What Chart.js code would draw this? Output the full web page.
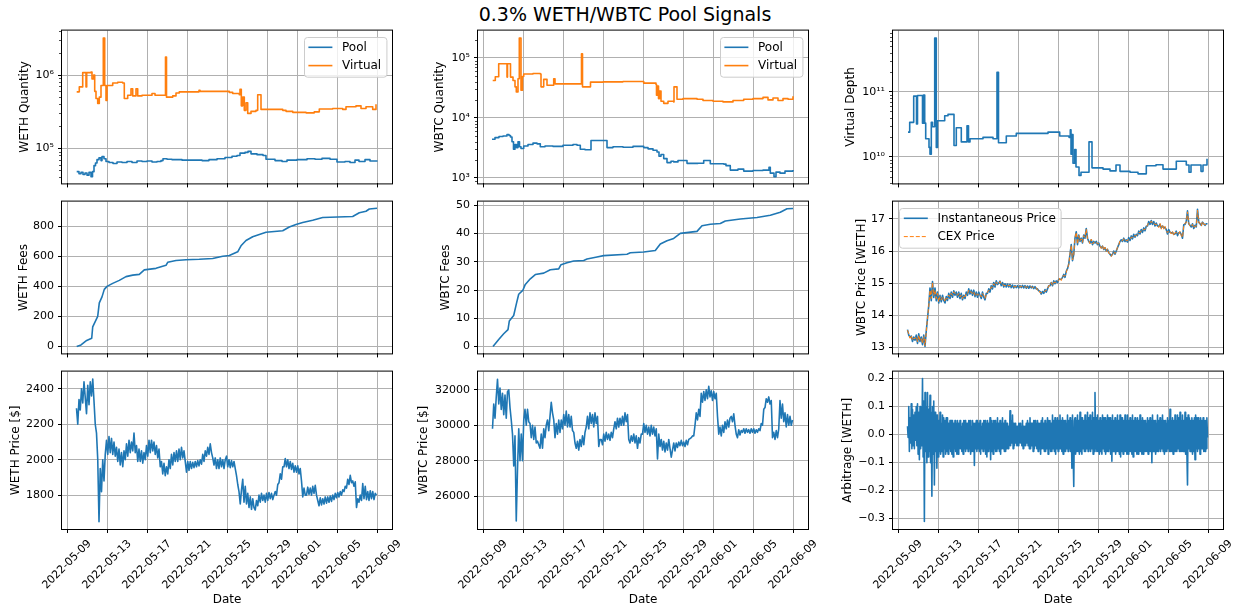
<!DOCTYPE html>
<html>
<head>
<meta charset="utf-8">
<title>0.3% WETH/WBTC Pool Signals</title>
<script src="https://cdn.jsdelivr.net/npm/chart.js"></script>
<style>
  body { margin: 0; background: #fff; width: 1238px; height: 611px; position: relative; overflow: hidden; font-family: "DejaVu Sans", sans-serif; }
  canvas { position: absolute; }
  #title { position: absolute; left: 0; width: 1250px; top: 5px; text-align: center; font-size: 19px; line-height: 19px; color: #000; }
</style>
</head>
<body>
<div id="title">0.3% WETH/WBTC Pool Signals</div>
<script>
// x values are days after 2022-05-09 00:00
const tickDays = [0, 4, 8, 12, 16, 20, 23, 27, 31];
const tickLabels = ['2022-05-09', '2022-05-13', '2022-05-17', '2022-05-21', '2022-05-25',
                    '2022-05-29', '2022-06-01', '2022-06-05', '2022-06-09'];

// reserves, [day, value] (step changes)
const wethPool = [[0.97,48000],[1.2,45000],[1.4,47000],[1.6,44000],[1.8,46000],[2.0,43000],[2.2,47000],[2.4,41000],
  [2.55,48000],[2.7,58000],[2.85,63000],[3.0,70000],[3.2,74000],[3.4,68000],[3.5,77000],[3.7,72000],[3.9,66000],
  [4.2,64000],[4.6,62000],[5.0,65000],[5.5,64000],[6.0,66000],[6.5,64000],[7.0,67000],[7.5,66000],[8.0,67000],
  [8.5,65000],[9.0,66000],[9.4,68000],[9.6,72000],[10.0,71000],[10.5,70000],[11.5,69000],[12.5,69000],[13.5,68000],
  [14.2,70000],[15.0,72000],[15.8,75000],[16.5,78000],[17.0,80000],[17.3,86000],[17.8,88000],[18.1,91000],
  [18.4,84000],[19.0,82000],[19.6,80000],[19.9,71000],[20.8,68000],[21.5,66000],[22.0,69000],[23.0,70000],
  [24.0,72000],[24.8,71000],[25.5,73000],[26.3,71000],[27.0,65000],[27.8,66000],[28.3,64000],[28.8,69000],
  [29.2,66000],[29.8,70000],[30.3,67000],[31.0,68000]];
const wethVirtual = [[0.97,590000],[1.23,690000],[1.57,1080000],[1.9,690000],[1.97,1080000],[2.4,1100000],
  [2.5,885000],[2.67,1000000],[2.77,600000],[2.9,480000],[3.07,410000],[3.23,500000],[3.4,720000],[3.63,3200000],
  [3.77,720000],[3.9,450000],[4.0,720000],[4.57,780000],[5.07,800000],[5.57,780000],[5.73,480000],[6.07,530000],
  [6.4,650000],[6.57,520000],[6.9,650000],[7.07,520000],[7.5,530000],[8.5,560000],[8.8,530000],[9.85,1770000],
  [9.95,500000],[10.57,520000],[10.9,570000],[11.23,590000],[13.2,620000],[13.3,600000],[14.57,600000],
  [16.23,580000],[16.57,560000],[17.23,540000],[17.3,640000],[17.43,380000],[17.57,500000],[17.73,330000],
  [17.9,420000],[18.07,300000],[18.4,320000],[18.9,330000],[19.07,540000],[19.4,340000],[21.57,330000],
  [21.9,320000],[22.57,310000],[23.9,305000],[24.73,315000],[25.23,345000],[26.57,350000],[27.57,340000],
  [27.9,370000],[28.9,380000],[29.4,350000],[29.9,370000],[30.57,340000],[30.9,400000]];
const wbtcPool = [[0.9,4400],[1.2,4700],[1.6,4900],[2.0,5000],[2.4,5300],[2.6,5100],[2.75,4800],[2.9,4000],
  [3.05,3000],[3.2,3600],[3.35,3200],[3.5,4000],[3.65,3300],[3.8,3100],[4.07,3400],[4.5,3600],[5.0,3800],
  [5.4,3700],[5.73,3300],[6.2,3400],[7.0,3350],[8.0,3500],[9.0,3600],[9.4,3500],[9.73,3000],[10.2,2950],
  [10.8,4200],[12.4,3200],[13.0,3300],[14.0,3250],[15.0,3350],[16.07,3200],[16.5,3050],[17.0,2900],[17.4,2700],
  [17.6,2300],[17.8,2450],[18.07,2100],[18.4,1800],[18.8,1900],[19.07,1850],[19.5,1950],[20.4,1750],[21.5,1760],
  [22.07,1950],[22.73,1720],[24.07,1700],[24.3,1600],[24.73,1350],[25.5,1400],[26.07,1300],[27.0,1330],
  [28.0,1350],[28.6,1500],[28.73,1200],[29.1,1050],[29.3,1250],[29.7,1200],[30.2,1300],[31.0,1350]];
const wbtcVirtual = [[0.97,42000],[1.23,48700],[1.57,80000],[2.1,80000],[2.4,48000],[2.45,80000],[2.75,48000],
  [3.0,42000],[3.2,33000],[3.33,27000],[3.5,45000],[3.63,215000],[3.8,29000],[3.95,49000],[4.07,54000],
  [5.0,55000],[5.73,54000],[5.8,33000],[6.07,44000],[6.4,35000],[7.0,35000],[7.07,45000],[7.2,37000],
  [9.85,117000],[9.95,33000],[10.75,39500],[12.0,40000],[14.0,40500],[16.07,38000],[17.3,36000],[17.35,24000],
  [17.45,34000],[17.55,21000],[17.65,28000],[17.8,19000],[18.07,17500],[18.5,19000],[19.07,18400],[19.1,33000],
  [19.4,20500],[20.0,21000],[21.4,20500],[22.0,19500],[23.0,19000],[24.0,18500],[25.0,19500],[26.07,20500],
  [27.0,21000],[28.0,22000],[28.5,20000],[29.0,21500],[29.5,19500],[30.0,21000],[30.5,20500],[31.0,23000]];
const virtualDepth = [[1.0,2.4e10],[1.17,3.4e10],[1.57,8.6e10],[1.85,3.2e10],[1.95,8.8e10],[2.45,3.3e10],
  [2.55,8.9e10],[2.67,3.3e10],[2.77,1.9e10],[3.1,1.4e10],[3.2,1.1e10],[3.33,3.4e10],[3.45,2.9e10],[3.67,6.7e11],
  [3.83,1.4e10],[3.95,3.6e10],[4.67,4.3e10],[5.0,4.5e10],[5.6,1.5e10],[5.83,2.8e10],[6.33,1.7e10],[6.9,3.0e10],
  [7.05,1.7e10],[7.2,1.9e10],[8.5,2.0e10],[9.5,1.9e10],[9.9,2.0e11],[10.05,1.65e10],[10.83,2.1e10],[11.83,2.3e10],
  [13.5,2.3e10],[15.0,2.4e10],[16.17,2.1e10],[17.1,2.0e10],[17.23,2.6e10],[17.3,1.1e10],[17.4,2.2e10],[17.5,8e9],
  [17.67,1.3e10],[17.8,7e9],[18.1,5.2e9],[18.3,5.8e9],[19.1,1.7e10],[19.4,6.8e9],[20.5,6.5e9],[21.2,6.1e9],
  [21.8,7.5e9],[22.2,6.0e9],[23.2,5.8e9],[24.0,5.5e9],[24.83,7.3e9],[25.8,7.6e9],[26.5,6.5e9],[27.83,8.6e9],
  [28.83,7.5e9],[29.1,5.8e9],[29.3,7.5e9],[30.3,6e9],[30.5,7.5e9],[30.9,9.4e9]];

// cumulative fees, [day, value]
const wethFees = [[0.97,0],[1.4,10],[1.97,40],[2.47,55],[2.57,130],[3.07,200],[3.23,290],[3.5,330],[3.73,380],
  [4.0,400],[4.57,420],[5.23,440],[5.9,465],[6.57,475],[7.23,480],[7.73,510],[8.9,520],[9.9,540],[10.07,560],
  [10.9,572],[11.9,577],[13.23,580],[14.57,585],[15.57,600],[16.23,605],[17.07,630],[17.4,670],[17.9,705],
  [18.57,730],[19.23,745],[19.9,760],[21.57,770],[22.23,795],[22.9,812],[23.57,825],[24.57,840],[25.57,858],
  [28.57,865],[29.23,890],[29.9,900],[30.23,915],[31.0,920]];
const wbtcFees = [[1.0,0],[1.57,2.5],[2.07,4.5],[2.5,6],[2.63,9],[3.07,11],[3.33,15],[3.57,18.5],[4.0,20],
  [4.23,22],[4.73,24],[5.23,25.5],[6.07,26],[6.73,27.2],[7.57,27.5],[7.8,29],[8.4,29.7],[9.07,30.3],[10.07,30.5],
  [10.4,31],[11.4,31.7],[12.07,32.2],[14.4,32.7],[14.73,33.2],[16.07,33.5],[17.23,34],[17.73,36.3],[18.4,37.5],
  [19.07,38.3],[19.73,40.1],[21.4,40.8],[21.9,42.8],[22.73,43.3],[23.73,43.6],[24.23,44.5],[25.73,45.2],
  [27.4,45.7],[28.73,46.5],[29.73,47.6],[30.4,48.8],[31.0,48.9]];

// prices sampled every 3 hours from day 0.95, arbitrage every 1.5 hours
const sampleStart = 0.95, priceStep = 0.125, arbStep = 0.0625;
const wethPrice = [
  2290,2200,2340,2280,2400,2320,2440,2350, 2260,2420,2310,2440,2360,2455,2330,2200,
  2150,2000,1650,1950,1820,2000,1880,2030, 2110,2030,2130,2040,2120,2030,2100,2020,
  2070,1990,2060,1970,2040,1960,2050,2000, 2090,2020,2110,2040,2100,2050,2150,2040,
  2080,1990,2060,1990,2050,1980,2040,2000, 2080,2020,2110,2040,2110,2050,2100,2030,
  2080,2010,2060,1960,1990,1920,1980,1910, 1960,1920,2000,1950,2030,1970,2040,1990,
  2050,1990,2060,2000,2070,2010,2050,1990, 1930,1990,1940,1990,1950,1985,1955,1990,
  1960,1995,1965,2000,1975,2030,1990,2050, 2020,2070,2030,2090,2040,2010,1970,2010,
  1950,2000,1950,2010,1960,2000,1950,2000, 2020,1960,2000,1955,1995,1960,1990,1950,
  1910,1860,1820,1750,1830,1890,1760,1850, 1750,1810,1730,1790,1720,1780,1730,1716,
  1770,1740,1800,1760,1810,1770,1800,1760, 1810,1770,1815,1780,1810,1775,1800,1820,
  1800,1860,1870,1920,1890,1960,1960,2006, 1960,2000,1950,1990,1945,1980,1930,1965,
  1930,1965,1920,1950,1880,1790,1840,1800, 1800,1845,1805,1840,1800,1850,1810,1855,
  1800,1770,1740,1785,1745,1780,1750,1790, 1755,1790,1760,1795,1765,1800,1775,1810,
  1785,1815,1790,1820,1800,1830,1820,1850, 1840,1890,1860,1912,1870,1880,1850,1875,
  1730,1780,1760,1800,1770,1865,1780,1850, 1775,1820,1770,1825,1780,1820,1775,1810, 1800];
const wbtcPrice = [
  29800,31200,30400,31600,32600,31200,32100,30900, 31800,30600,31700,30400,31900,32000,31000,30300,
  29500,27700,29400,24600,27500,29800,28000,29500, 28000,30300,30900,30000,30900,30200,30100,29300,
  30000,29200,29900,29000,29100,28900,28700,29500, 28700,29800,29300,30000,30300,29700,30500,31300,
  30700,30300,29300,30100,29500,30300,29600,30300, 29800,30600,30000,30800,29900,30600,29900,30500,
  29700,29600,29000,28700,29100,28600,29200,28800, 29400,28900,29600,29900,30500,29800,30700,30100,
  30600,29900,30700,30100,30500,28800,29200,29200, 28900,29500,29100,29600,29200,29500,29150,29600,
  29300,29800,30200,29800,30400,29900,30400,30000, 30500,30000,30700,30200,30600,29200,29000,29400,
  29100,29500,29000,29400,28700,29300,29000,29500, 29500,30100,29600,30000,29500,29900,29400,30000,
  29500,29900,29400,29800,28100,29500,28800,29200, 28600,29100,28500,29000,28600,29200,28700,28200,
  28600,29000,28550,29000,28750,29050,28850,29150, 28850,29050,28800,29150,28900,29200,29250,29300,
  29400,29400,30000,30700,30300,30900,30500,31800, 31300,31900,31400,32000,31500,32200,31600,31950,
  31400,31900,31500,31800,30500,29500,29900,29400, 30000,29600,30200,29800,30300,29900,30400,30500,
  30200,30650,30000,29500,29300,29750,29450,29700, 29600,29800,29550,29800,29600,29750,29550,29800,
  29600,29800,29550,29750,29600,29800,29700,30100, 30000,30900,31000,31500,31300,31600,31200,31400,
  29300,29600,29200,29700,29300,29800,31400,30400, 31200,30200,30700,29900,30600,30000,30500,30000, 30300];
const instPrice = [
  13.55,13.38,13.32,13.35,13.18,13.32,13.22,13.38, 13.12,13.42,13.18,13.32,13.08,13.38,13.03,13.5,
  13.9,14.3,14.85,14.45,15.05,14.55,14.85,14.45, 14.72,14.38,14.62,14.42,14.62,14.46,14.38,14.58,
  14.46,14.68,14.52,14.72,14.56,14.76,14.62,14.72, 14.56,14.72,14.52,14.68,14.48,14.62,14.52,14.72,
  14.62,14.82,14.66,14.78,14.62,14.78,14.58,14.72, 14.56,14.72,14.62,14.52,14.72,14.56,14.48,14.68,
  14.68,14.82,14.72,14.92,14.82,15.02,14.88,15.07, 14.96,15.0,15.06,14.92,15.02,14.88,14.98,14.88,
  14.97,14.88,14.96,14.86,14.94,14.85,14.92,14.86, 14.92,14.85,14.92,14.86,14.93,14.85,14.92,14.84,
  14.91,14.84,14.91,14.85,14.9,14.83,14.89,14.82, 14.82,14.76,14.74,14.66,14.74,14.68,14.8,14.72,
  14.82,14.92,14.92,15.02,14.92,15.07,14.98,15.07, 15.02,15.12,15.12,15.12,15.18,15.27,15.18,15.37,
  15.45,15.6,15.9,16.2,15.7,15.9,16.4,16.6, 16.2,16.5,16.3,16.4,16.25,16.5,16.4,16.7,
  16.4,16.3,16.25,16.35,16.2,16.3,16.25,16.3, 16.2,16.25,16.15,16.1,16.15,16.05,16.1,16.0,
  16.05,15.95,15.9,15.85,15.9,16.0,15.9,16.0, 16.1,16.2,16.3,16.35,16.3,16.4,16.3,16.35,
  16.28,16.42,16.33,16.47,16.38,16.52,16.43,16.52, 16.48,16.62,16.53,16.67,16.58,16.72,16.63,16.77,
  16.78,16.92,16.83,16.95,16.83,16.92,16.78,16.87, 16.78,16.77,16.83,16.72,16.78,16.72,16.73,16.67,
  16.53,16.67,16.58,16.57,16.58,16.52,16.53,16.62, 16.48,16.57,16.58,16.52,16.4,16.82,16.83,16.92,
  17.25,16.85,16.8,16.75,16.85,16.7,16.8,16.75, 17.3,16.9,16.85,16.8,16.9,16.85,16.8,16.85, 16.85];
const cexPrice = [
  13.53,13.42,13.28,13.37,13.22,13.28,13.27,13.33, 13.17,13.38,13.22,13.28,13.12,13.33,13.05,13.48,
  13.92,14.28,14.78,14.52,15.02,14.62,14.78,14.52, 14.68,14.42,14.58,14.47,14.58,14.52,14.42,14.53,
  14.52,14.63,14.57,14.68,14.62,14.73,14.67,14.68, 14.62,14.68,14.57,14.63,14.52,14.62,14.57,14.68,
  14.67,14.78,14.72,14.73,14.67,14.73,14.62,14.68, 14.62,14.68,14.63,14.57,14.68,14.62,14.52,14.63,
  14.72,14.78,14.77,14.88,14.87,14.98,14.92,15.03, 14.98,14.97,15.05,14.97,14.98,14.92,14.93,14.92,
  14.93,14.92,14.93,14.9,14.9,14.89,14.88,14.9, 14.88,14.89,14.88,14.9,14.89,14.89,14.88,14.88,
  14.87,14.88,14.88,14.89,14.86,14.87,14.86,14.86, 14.78,14.8,14.7,14.7,14.7,14.72,14.76,14.77,
  14.83,14.92,14.93,15.02,14.93,15.03,15.02,15.03, 15.07,15.08,15.17,15.08,15.22,15.23,15.22,15.33,
  15.47,15.58,15.92,16.18,15.72,15.88,16.42,16.58, 16.22,16.48,16.32,16.38,16.27,16.48,16.42,16.68,
  16.38,16.32,16.23,16.37,16.22,16.28,16.27,16.28, 16.22,16.23,16.17,16.08,16.17,16.03,16.12,15.98,
  16.07,15.93,15.92,15.83,15.92,15.98,15.92,15.98, 16.12,16.18,16.32,16.33,16.32,16.38,16.32,16.33,
  16.32,16.38,16.37,16.43,16.42,16.48,16.47,16.48, 16.52,16.58,16.57,16.63,16.62,16.68,16.67,16.73,
  16.82,16.88,16.87,16.93,16.87,16.88,16.82,16.83, 16.82,16.73,16.87,16.68,16.82,16.68,16.77,16.63,
  16.57,16.63,16.62,16.53,16.62,16.48,16.57,16.58, 16.52,16.53,16.62,16.48,16.42,16.78,16.87,16.88,
  17.22,16.87,16.78,16.77,16.83,16.72,16.78,16.77, 17.27,16.88,16.87,16.78,16.92,16.83,16.82,16.83, 16.83];
const arbitrage = [
  0.03,-0.01,0.1,-0.06,0.06,-0.03,0.11,-0.05,0.09,-0.04,0.07,-0.05,0.08,-0.02,0.1,-0.04,
  0.11,-0.07,0.08,-0.09,0.1,-0.05,0.07,-0.04,0.2,-0.08,0.12,-0.31,0.15,-0.06,0.1,-0.1,
  0.15,-0.08,0.09,-0.06,0.14,-0.1,0.08,-0.22,0.1,-0.07,0.12,-0.18,0.08,-0.06,0.07,-0.12,
  0.07,-0.08,0.05,-0.06,0.08,-0.07,0.04,-0.06,0.07,-0.08,0.06,-0.05,0.05,-0.07,0.06,-0.06,
  0.06,-0.07,0.04,-0.05,0.05,-0.06,0.05,-0.07,0.05,-0.08,0.04,-0.05,0.05,-0.06,0.04,-0.07,
  0.05,-0.07,0.04,-0.05,0.05,-0.05,0.03,-0.06,0.04,-0.07,0.05,-0.05,0.05,-0.06,0.04,-0.05,
  0.04,-0.06,0.05,-0.05,0.05,-0.07,0.03,-0.06,0.05,-0.06,0.04,-0.11,0.04,-0.05,0.05,-0.06,
  0.05,-0.05,0.04,-0.06,0.05,-0.07,0.03,-0.05,0.04,-0.06,0.05,-0.05,0.05,-0.07,0.04,-0.08,
  0.05,-0.06,0.04,-0.05,0.06,-0.09,0.05,-0.06,0.04,-0.07,0.05,-0.05,0.05,-0.06,0.04,-0.06,
  0.06,-0.05,0.04,-0.06,0.05,-0.07,0.04,-0.05,0.06,-0.05,0.04,-0.06,0.05,-0.06,0.04,-0.05,
  0.04,-0.05,0.03,-0.04,0.085,-0.04,0.05,-0.03,0.07,-0.05,0.04,-0.04,0.04,-0.03,0.03,-0.04,
  0.03,-0.04,0.04,-0.03,0.04,-0.03,0.03,-0.04,0.05,-0.05,0.03,-0.04,0.03,-0.04,0.04,-0.03,
  0.05,-0.04,0.04,-0.05,0.06,-0.05,0.04,-0.04,0.04,-0.06,0.05,-0.05,0.05,-0.04,0.04,-0.05,
  0.05,-0.06,0.04,-0.05,0.04,-0.07,0.05,-0.05,0.06,-0.05,0.04,-0.06,0.05,-0.06,0.04,-0.05,
  0.06,-0.07,0.05,-0.05,0.05,-0.06,0.04,-0.06,0.07,-0.05,0.05,-0.06,0.06,-0.07,0.05,-0.05,
  0.06,-0.06,0.05,-0.05,0.07,-0.05,0.05,-0.06,0.06,-0.07,0.05,-0.06,0.05,-0.06,0.04,-0.05,
  0.07,-0.06,0.05,-0.05,0.06,-0.06,0.05,-0.12,0.07,-0.06,-0.185,0.05,0.06,-0.07,0.05,-0.06,
  0.07,-0.06,0.05,-0.07,0.08,-0.06,0.06,-0.07,0.06,-0.05,0.05,-0.06,0.07,-0.06,0.05,-0.05,
  0.08,-0.06,0.06,-0.05,0.07,-0.06,0.05,-0.05,0.08,-0.07,0.06,-0.06,0.15,-0.05,0.06,-0.06,
  0.07,-0.06,0.05,-0.07,0.06,-0.06,0.05,-0.07,0.07,-0.05,0.06,-0.06,0.06,-0.07,0.05,-0.06,
  0.07,-0.06,0.06,-0.05,0.06,-0.07,0.05,-0.095,0.07,-0.06,0.05,-0.06,0.06,-0.07,0.05,-0.06,
  0.07,-0.06,0.05,-0.07,0.07,-0.08,0.06,-0.06,0.06,-0.07,0.05,-0.06,0.07,-0.06,0.05,-0.07,
  0.07,-0.07,0.05,-0.06,0.06,-0.06,0.05,-0.07,0.07,-0.08,0.05,-0.06,0.06,-0.06,0.05,-0.07,
  0.06,-0.07,0.05,-0.06,0.07,-0.06,0.05,-0.07,0.06,-0.07,0.05,-0.06,0.05,-0.06,0.04,-0.06,
  0.06,-0.07,0.05,-0.06,0.06,-0.06,0.05,-0.1,0.07,-0.06,0.05,-0.06,0.05,-0.07,0.04,-0.06,
  0.07,-0.06,0.05,-0.05,0.06,-0.06,0.05,-0.05,0.07,-0.06,0.05,-0.07,0.05,-0.06,0.04,-0.06,
  0.06,-0.05,0.05,-0.06,0.09,-0.06,0.05,-0.06,0.06,-0.07,0.05,-0.06,0.07,-0.06,0.05,-0.06,
  0.07,-0.05,0.06,-0.06,0.08,-0.06,0.05,-0.06,0.07,-0.06,0.05,-0.06,0.08,-0.07,0.06,-0.06,
  -0.18,0.07,-0.05,0.06,-0.06,0.05,-0.06,0.06,-0.07,0.05,-0.06,0.06,-0.09,0.07,-0.05,0.06,
  -0.06,0.06,-0.05,0.05,-0.07,0.06,-0.05,0.05,-0.05,0.06,-0.06,0.05,-0.06,0.05,-0.05,0.06, -0.01];

const BLUE = '#1f77b4', ORANGE = '#ff7f0e';
const FONT = '"DejaVu Sans", sans-serif';
const colLeft = [62, 478, 893], rowTop = [30, 201, 371], rowH = [158, 157, 158], PW = 330;

const pairs = arr => arr.map(p => ({x: p[0], y: p[1]}));
const sampled = (arr, step) => arr.map((v, i) => ({x: sampleStart + i * step, y: v}));

// full box around the axes
const frame = {
  id: 'frame',
  afterDraw(chart) {
    const {ctx, chartArea: a} = chart;
    ctx.save();
    ctx.strokeStyle = '#000'; ctx.lineWidth = 1;
    ctx.strokeRect(a.left - 0.5, a.top - 0.5, a.right - a.left + 1, a.bottom - a.top + 1);
    ctx.restore();
  }
};

// short unlabeled ticks between decades on log axes
const minorTicks = {
  id: 'minorTicks',
  afterDraw(chart) {
    const s = chart.scales.y;
    if (s.type !== 'logarithmic') return;
    const {ctx, chartArea: a} = chart;
    ctx.save();
    ctx.strokeStyle = '#000'; ctx.lineWidth = 0.7;
    for (let e = Math.floor(Math.log10(s.min)); e <= Math.ceil(Math.log10(s.max)); e++) {
      for (let k = 2; k < 10; k++) {
        const v = k * Math.pow(10, e);
        if (v < s.min || v > s.max) continue;
        const y = Math.round(s.getPixelForValue(v)) + 0.5;
        ctx.beginPath(); ctx.moveTo(a.left - 3, y); ctx.lineTo(a.left, y); ctx.stroke();
      }
    }
    ctx.restore();
  }
};

// rotated date labels centred under the ticks
const dateLabels = {
  id: 'dateLabels',
  afterDraw(chart, args, opts) {
    if (!opts.show) return;
    const {ctx, chartArea: a} = chart, s = chart.scales.x;
    ctx.save();
    ctx.font = '11px ' + FONT; ctx.fillStyle = '#000';
    ctx.textAlign = 'center'; ctx.textBaseline = 'middle';
    tickDays.forEach((d, i) => {
      const w = ctx.measureText(tickLabels[i]).width, h = 12.8;
      const cx = s.getPixelForValue(d), cy = a.bottom + 8.4 + (w + h) * Math.SQRT1_2 / 2;
      ctx.save(); ctx.translate(cx, cy); ctx.rotate(-Math.PI / 4);
      ctx.fillText(tickLabels[i], 0, 0);
      ctx.restore();
    });
    ctx.restore();
  }
};

// matplotlib style legend box inside the axes
const boxLegend = {
  id: 'boxLegend',
  afterDatasetsDraw(chart, args, opts) {
    if (!opts.items) return;
    const {ctx, chartArea: a} = chart, items = opts.items;
    ctx.save();
    ctx.font = '12px ' + FONT;
    const tw = Math.max(...items.map(it => ctx.measureText(it.label).width));
    const pad = 4.8, hl = 24, htp = 9.6, lh = 11.8, sp = 6.5;
    const bw = pad * 2 + hl + htp + tw, bh = pad * 2 + lh * items.length + sp * (items.length - 1);
    const bx = opts.loc === 'left' ? a.left + 6 : a.right - 6 - bw, by = a.top + 6;
    ctx.fillStyle = 'rgba(255,255,255,0.8)'; ctx.strokeStyle = '#cccccc'; ctx.lineWidth = 1;
    ctx.beginPath(); ctx.roundRect(Math.round(bx) + 0.5, Math.round(by) + 0.5, bw, bh, 3); ctx.fill(); ctx.stroke();
    items.forEach((it, i) => {
      const cy = by + pad + lh / 2 + i * (lh + sp);
      ctx.strokeStyle = it.color; ctx.lineWidth = it.width; ctx.setLineDash(it.dash || []);
      ctx.beginPath(); ctx.moveTo(bx + pad, cy); ctx.lineTo(bx + pad + hl, cy); ctx.stroke();
      ctx.setLineDash([]);
      ctx.fillStyle = '#000'; ctx.textBaseline = 'middle'; ctx.textAlign = 'left';
      ctx.fillText(it.label, bx + pad + hl + htp, cy + 0.5);
    });
    ctx.restore();
  }
};

function line(label, data, color, extra) {
  return Object.assign({label, data, borderColor: color, backgroundColor: color, borderWidth: 1.6,
    pointRadius: 0, fill: false, borderJoinStyle: 'round'}, extra || {});
}

function plot(o) {
  const padTop = 10, padRight = 12;
  const left = colLeft[o.col], top = rowTop[o.row], h = rowH[o.row];
  const bottomRow = o.row === 2, xH = bottomRow ? 78 : 6;
  const W = o.yW + PW + padRight, H = padTop + h + xH;
  const c = document.createElement('canvas');
  c.width = W; c.height = H;
  c.style.left = (left - o.yW) + 'px'; c.style.top = (top - padTop) + 'px';
  c.style.width = W + 'px'; c.style.height = H + 'px';
  document.body.appendChild(c);
  const grid = {color: '#b0b0b0', lineWidth: 1, tickColor: '#000', tickLength: 4, tickWidth: 1, drawTicks: true};
  new Chart(c, {
    type: 'line',
    data: {datasets: o.datasets},
    options: {
      responsive: false, animation: false, devicePixelRatio: 1,
      layout: {padding: {top: padTop, right: padRight, left: 0, bottom: 0}},
      plugins: {legend: {display: false}, tooltip: {enabled: false},
        boxLegend: o.legend || {}, dateLabels: {show: bottomRow}},
      scales: {
        x: {
          type: 'linear', min: -0.5, max: 32.5,
          afterBuildTicks: s => { s.ticks = tickDays.map(v => ({value: v})); },
          afterFit: s => { s.height = xH; },
          ticks: {autoSkip: false, maxRotation: 0, padding: 0, callback: () => ''},
          grid: grid, border: {display: false},
          title: {display: bottomRow, text: 'Date', color: '#000', padding: 0, font: {family: FONT, size: 12}}
        },
        y: {
          type: o.log ? 'logarithmic' : 'linear', min: o.yMin, max: o.yMax,
          afterBuildTicks: s => { s.ticks = o.yTicks.map(v => ({value: v})); },
          afterFit: s => { s.width = o.yW; },
          ticks: {autoSkip: false, padding: 4, color: '#000', font: {family: FONT, size: 11},
            callback: (v, i) => o.yLabels[i]},
          grid: grid, border: {display: false},
          title: {display: true, text: o.yTitle, color: '#000', padding: 0, font: {family: FONT, size: 12}}
        }
      }
    },
    plugins: [frame, minorTicks, dateLabels, boxLegend]
  });
}

// row 1: reserves
plot({row: 0, col: 0, yW: 44, log: true, yMin: 3.32e4, yMax: 4.05e6, yTicks: [1e5, 1e6], yLabels: ['10⁵', '10⁶'],
  yTitle: 'WETH Quantity',
  datasets: [line('Pool', pairs(wethPool), BLUE, {stepped: true}), line('Virtual', pairs(wethVirtual), ORANGE, {stepped: true})],
  legend: {loc: 'right', items: [{label: 'Pool', color: BLUE, width: 1.6}, {label: 'Virtual', color: ORANGE, width: 1.6}]}});
plot({row: 0, col: 1, yW: 45, log: true, yMin: 810, yMax: 2.86e5, yTicks: [1e3, 1e4, 1e5], yLabels: ['10³', '10⁴', '10⁵'],
  yTitle: 'WBTC Quantity',
  datasets: [line('Pool', pairs(wbtcPool), BLUE, {stepped: true}), line('Virtual', pairs(wbtcVirtual), ORANGE, {stepped: true})],
  legend: {loc: 'right', items: [{label: 'Pool', color: BLUE, width: 1.6}, {label: 'Virtual', color: ORANGE, width: 1.6}]}});
plot({row: 0, col: 2, yW: 49, log: true, yMin: 3.92e9, yMax: 8.72e11, yTicks: [1e10, 1e11], yLabels: ['10¹⁰', '10¹¹'],
  yTitle: 'Virtual Depth',
  datasets: [line('Virtual Depth', pairs(virtualDepth), BLUE, {stepped: true})]});

// row 2: fees and relative price
plot({row: 1, col: 0, yW: 45, yMin: -46, yMax: 964, yTicks: [0, 200, 400, 600, 800], yLabels: ['0', '200', '400', '600', '800'],
  yTitle: 'WETH Fees', datasets: [line('WETH Fees', pairs(wethFees), BLUE)]});
plot({row: 1, col: 1, yW: 39, yMin: -2.45, yMax: 51.35, yTicks: [0, 10, 20, 30, 40, 50], yLabels: ['0', '10', '20', '30', '40', '50'],
  yTitle: 'WBTC Fees', datasets: [line('WBTC Fees', pairs(wbtcFees), BLUE)]});
plot({row: 1, col: 2, yW: 38, yMin: 12.81, yMax: 17.54, yTicks: [13, 14, 15, 16, 17], yLabels: ['13', '14', '15', '16', '17'],
  yTitle: 'WBTC Price [WETH]',
  datasets: [line('Instantaneous Price', sampled(instPrice, priceStep), BLUE, {order: 2}),
             line('CEX Price', sampled(cexPrice, priceStep), ORANGE, {order: 1, borderWidth: 1, borderDash: [4, 2]})],
  legend: {loc: 'left', items: [{label: 'Instantaneous Price', color: BLUE, width: 1.6},
                                {label: 'CEX Price', color: ORANGE, width: 1, dash: [4, 2]}]}});

// row 3: prices and arbitrage
plot({row: 2, col: 0, yW: 53, yMin: 1609, yMax: 2497, yTicks: [1800, 2000, 2200, 2400], yLabels: ['1800', '2000', '2200', '2400'],
  yTitle: 'WETH Price [$]', datasets: [line('WETH Price', sampled(wethPrice, priceStep), BLUE)]});
plot({row: 2, col: 1, yW: 61, yMin: 24144, yMax: 33030, yTicks: [26000, 28000, 30000, 32000], yLabels: ['26000', '28000', '30000', '32000'],
  yTitle: 'WBTC Price [$]', datasets: [line('WBTC Price', sampled(wbtcPrice, priceStep), BLUE)]});
plot({row: 2, col: 2, yW: 52, yMin: -0.337, yMax: 0.225, yTicks: [-0.3, -0.2, -0.1, 0, 0.1, 0.2],
  yLabels: ['−0.3', '−0.2', '−0.1', '0.0', '0.1', '0.2'],
  yTitle: 'Arbitrage [WETH]', datasets: [line('Arbitrage', sampled(arbitrage, arbStep), BLUE)]});
</script>
</body>
</html>
